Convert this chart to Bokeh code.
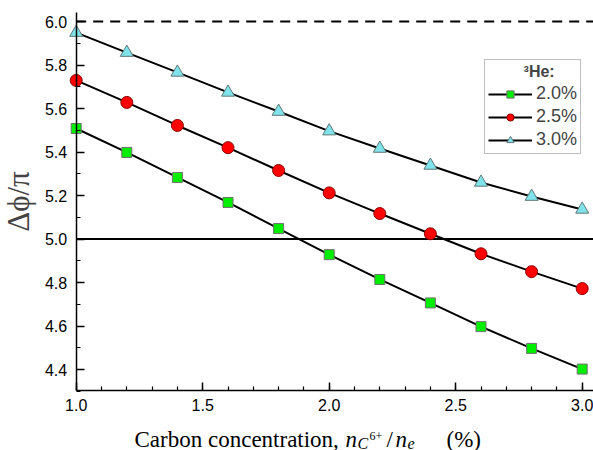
from bokeh.plotting import figure
from bokeh.models import (Range1d, Legend, LegendItem, FixedTicker, CustomJSTickFormatter)
from bokeh.core.properties import value
from bokeh.embed import file_html
from bokeh.resources import INLINE

# ---- data ----
conc = [1.0, 1.2, 1.4, 1.6, 1.8, 2.0, 2.2, 2.4, 2.6, 2.8, 3.0]
he_2_0 = [5.508, 5.398, 5.283, 5.168, 5.048, 4.928, 4.814, 4.706, 4.597, 4.497, 4.402]
he_2_5 = [5.729, 5.628, 5.522, 5.420, 5.315, 5.212, 5.117, 5.024, 4.932, 4.850, 4.772]
he_3_0 = [5.949, 5.857, 5.766, 5.674, 5.586, 5.496, 5.416, 5.338, 5.260, 5.195, 5.136]
series_labels = ["2.0%", "2.5%", "3.0%"]
legend_title = "³He:"
y_ticks = [4.4, 4.6, 4.8, 5.0, 5.2, 5.4, 5.6, 5.8, 6.0]
x_ticks = [1.0, 1.5, 2.0, 2.5, 3.0]
ref_lines = [5.0, 6.0]
x_label_parts = ["Carbon concentration,", "n", "C", "6+", "/", "n", "e", "(%)"]

W, H = 593, 450

# canvas pixel <-> data mapping used for the ranges and the composed x title
XPX0, XSCALE = 75.7, 253.0   # canvas x of 1.0, px per unit
YPX0, YSCALE = 21.0, 217.5   # canvas y of 6.0, px per unit

def px2x(px):
    return 1.0 + (px - XPX0) / XSCALE

def py2y(py):
    return 6.0 - (py - YPX0) / YSCALE

X0, X1 = 1.0, px2x(W)
Y0, Y1 = 4.303, py2y(12)

p = figure(width=W, height=H, output_backend="svg", toolbar_location=None,
           x_range=Range1d(px2x(0), px2x(W)), y_range=Range1d(py2y(H), py2y(0)),
           min_border=0, min_border_left=0, min_border_right=0,
           min_border_top=0, min_border_bottom=0)
p.outline_line_color = None
p.xgrid.visible = False
p.ygrid.visible = False

for ax in (p.xaxis[0], p.yaxis[0]):
    ax.axis_line_width = 1.5
    ax.axis_line_color = "black"
    ax.major_tick_in = 8
    ax.major_tick_out = 0
    ax.minor_tick_in = 4
    ax.minor_tick_out = 0
    ax.major_tick_line_width = 1.5
    ax.minor_tick_line_width = 1.2
    ax.major_tick_line_color = "black"
    ax.minor_tick_line_color = "black"
    ax.major_label_text_font = "Liberation Sans"
    ax.major_label_text_font_size = "16px"
    ax.major_label_text_color = "black"
    ax.formatter = CustomJSTickFormatter(code="return tick.toFixed(1);")

p.xaxis.fixed_location = Y0
p.xaxis.bounds = (X0, X1)
p.yaxis.fixed_location = X0
p.yaxis.bounds = (Y0, Y1)

p.xaxis.ticker = FixedTicker(ticks=x_ticks, minor_ticks=[round(1.0 + 0.1 * i, 2) for i in range(21)])
p.yaxis.ticker = FixedTicker(ticks=y_ticks, minor_ticks=[round(4.3 + 0.1 * i, 2) for i in range(18)])
p.xaxis.major_label_standoff = 8
p.yaxis.major_label_standoff = 9

p.yaxis.axis_label = "Δϕ/π"
p.yaxis.axis_label_text_font = "Liberation Serif"
p.yaxis.axis_label_text_font_style = "normal"
p.yaxis.axis_label_text_font_size = "31px"
p.yaxis.axis_label_standoff = 6

# reference lines (solid at 5.0, dashed at 6.0), from the y axis to the right edge
p.segment(x0=[X0], y0=[ref_lines[0]], x1=[X1], y1=[ref_lines[0]], line_color="black", line_width=2)
p.segment(x0=[X0], y0=[ref_lines[1]], x1=[X1], y1=[ref_lines[1]], line_color="black", line_width=2,
          line_dash="10 7")

styles = [
    dict(marker="square", size=10, fill_color="#00ee00", line_color="#707070"),
    dict(marker="circle", size=12, fill_color="#ff0000", line_color="#8b0000"),
    dict(marker="triangle", size=13, fill_color="#80e2ea", line_color="#607878"),
]
items = []
for ys, lab, st in zip([he_2_0, he_2_5, he_3_0], series_labels, styles):
    l = p.line(conc, ys, line_color="black", line_width=2)
    s = p.scatter(conc, ys, marker=st["marker"], size=st["size"], fill_color=st["fill_color"],
                  line_color=st["line_color"], line_width=1)
    items.append(LegendItem(label=lab, renderers=[l, s]))

legend = Legend(items=items, location=(484, 296), title="\u00a0" * 8 + legend_title,
                title_text_font="Liberation Sans", title_text_font_style="bold",
                title_text_font_size="16px", title_standoff=2,
                label_text_font="Liberation Sans", label_text_font_size="18px",
                glyph_width=44, glyph_height=18, label_height=18, spacing=2,
                padding=3, margin=0, border_line_color="#808080", border_line_width=1,
                background_fill_alpha=1.0, label_standoff=4)
p.add_layout(legend)

# ---- composed x-axis title (real text pieces) ----
base = 439
fs_main, fs_sub, fs_sup = "23px", "16px", "12px"
layout = [  # canvas x(px), baseline shift(px, down +), size, style
    (134, 0, fs_main, "normal"),
    (345, 0, fs_main, "italic"),
    (357, 4, fs_sub, "italic"),
    (369, -4, fs_sup, "normal"),
    (386, 0, fs_main, "normal"),
    (395, 0, fs_main, "italic"),
    (407, 4, fs_sub, "italic"),
    (446, 0, fs_main, "normal"),
]
for txt, (px, dy, fs, style) in zip(x_label_parts, layout):
    p.text(x=[px2x(px)], y=[py2y(base + dy)], text=[txt], text_font=value("Liberation Serif"),
           text_font_size=value(fs), text_font_style=style, text_baseline="alphabetic",
           text_align="left", text_color="black")

open("out.html", "w").write(file_html(p, INLINE))
